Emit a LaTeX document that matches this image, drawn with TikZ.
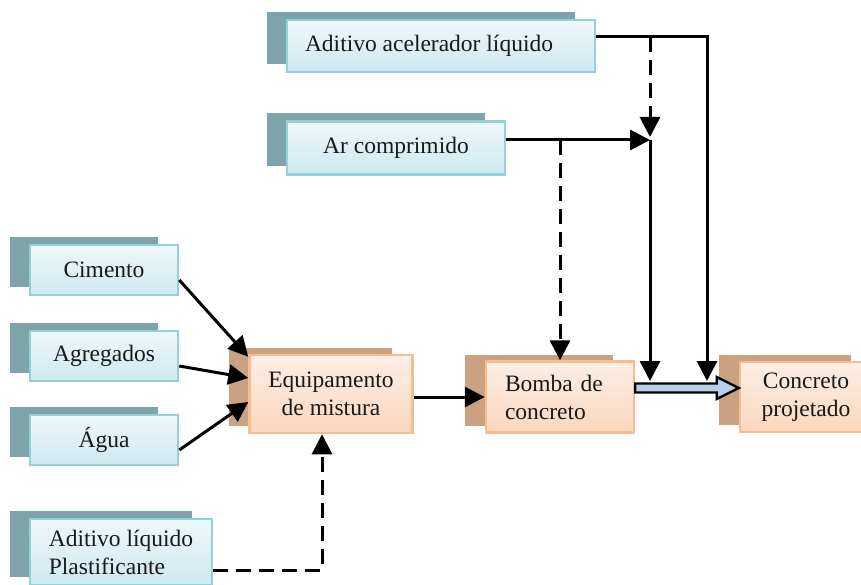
\documentclass[tikz,border=0pt]{standalone}
\usepackage{fontspec}
\setmainfont{Liberation Serif}
\usetikzlibrary{positioning,arrows.meta,shadows,calc}
\definecolor{boxcyanA}{HTML}{EEF8FA}
\definecolor{boxcyanB}{HTML}{CDE9EF}
\definecolor{edgecyan}{HTML}{95D0DA}
\definecolor{shadecyan}{HTML}{7FA3AB}
\definecolor{boxpeachA}{HTML}{FDEEE4}
\definecolor{boxpeachB}{HTML}{FAD7BE}
\definecolor{edgepeach}{HTML}{F6BC92}
\definecolor{shadepeach}{HTML}{C9A183}
\definecolor{pipeblue}{HTML}{B7CFEA}
\begin{document}
\begin{tikzpicture}[x=1pt, y=-1pt,
    every node/.style={font=\fontsize{23.5}{28}\selectfont, text=black!90},
    src/.style={rectangle, draw=edgecyan, line width=2.5pt, top color=boxcyanA, bottom color=boxcyanB,
      general shadow={shadow xshift=-20pt, shadow yshift=8pt, fill=shadecyan},
      minimum width=148pt, minimum height=50pt, align=center},
    stage/.style={rectangle, draw=edgepeach, line width=2.5pt, top color=boxpeachA, bottom color=boxpeachB,
      general shadow={shadow xshift=-21pt, shadow yshift=7pt, fill=shadepeach},
      align=center},
    flow/.style={line width=3pt, -{Triangle[width=20pt, length=20pt]}},
    dflow/.style={flow, dash pattern=on 15pt off 8pt},
    pipe/.style={draw=black, line width=2.4pt, fill=pipeblue, line join=miter}]
    \useasboundingbox (0,0) rectangle (861,585);
    % inputs
    \node[src, minimum width=308pt, minimum height=52pt] (acel) at (441,46) {Aditivo acelerador líquido\hspace*{24pt}};
    \node[src, minimum width=218pt, minimum height=53pt] (ar) at (396,148) {Ar comprimido};
    \node[src] (cimento) at (104,270) {Cimento};
    \node[src] (agregados) at (104,356) {Agregados};
    \node[src] (agua) at (104,440) {Água};
    \node[src, minimum width=182pt, minimum height=66pt, align=left] (plast) at (121,552) {Aditivo líquido\\Plastificante};
    % process
    \node[stage, minimum width=163pt, minimum height=78pt] (equip) at (331,394) {Equipamento\\de mistura};
    \node[stage, minimum width=148pt, minimum height=71pt, text width=110pt, align=left] (bomba) at (560,397) {Bomba de\\concreto};
    \node[stage, minimum width=132pt, minimum height=70pt] (concreto) at (806,397) {Concreto\\projetado};
    \coordinate (jar) at (650,140);
    \coordinate (acelout) at ([yshift=9pt]acel.east);
    \coordinate (pipeL) at (650,381);
    \coordinate (pipeR) at (707,381);
    \coordinate (tipP) at ([yshift=9pt]concreto.west);
    \draw[flow] ([yshift=-10pt]cimento.east) -- ([yshift=-3pt]equip.north west);
    \draw[flow] ([yshift=-10pt]agregados.east) -- ([yshift=16pt]equip.west);
    \draw[flow] ([yshift=-10pt]agua.east) -- ([yshift=-8pt]equip.west);
    \draw[dflow] ([yshift=-18pt]plast.east) -| ([xshift=-9pt]equip.south);
    \draw[flow] ([yshift=-3pt]equip.east) -- (bomba.west);
    \draw[flow] ([yshift=8pt]ar.east) -- (jar);
    \draw[dflow] (bomba.north |- jar) -- (bomba.north);
    \draw[flow] (acelout) -| (pipeR);
    \draw[dflow] (jar |- acelout) -- ([yshift=3pt]jar);
    \draw[flow] (jar) -- (pipeL);
    % hollow arrow to the output
    \draw[pipe] ([yshift=13.5pt]bomba.east) -- ($(tipP)+(-22,-4.5)$) -- ($(tipP)+(-22,-11)$) -- (tipP)
      -- ($(tipP)+(-22,11)$) -- ($(tipP)+(-22,4.5)$) -- ([yshift=4.5pt]bomba.east) -- cycle;
\end{tikzpicture}
\end{document}
